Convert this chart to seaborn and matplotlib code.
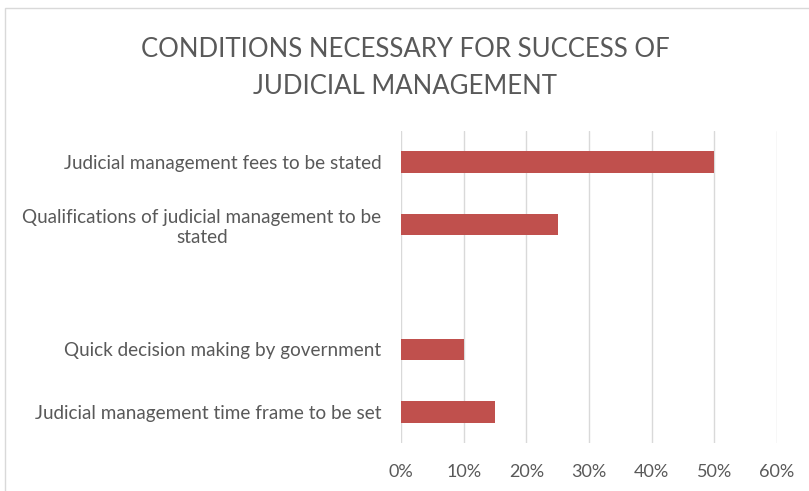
import matplotlib
matplotlib.use("Agg")
import matplotlib.pyplot as plt
import matplotlib.patches as mpatches
from matplotlib.ticker import PercentFormatter
import seaborn as sns
import pandas as pd

# Chart data (top to bottom); one empty slot in the original chart
conditions = [
    "Judicial management fees to be stated",
    "Qualifications of judicial management to be\nstated",
    " ",
    "Quick decision making by government",
    "Judicial management time frame to be set",
]
shares = [50, 25, 0, 10, 15]
x_ticks = [0, 10, 20, 30, 40, 50, 60]

df = pd.DataFrame({"condition": conditions, "share": shares})

sns.set_theme(style="white")
plt.rcParams["font.family"] = ["Lato", "DejaVu Sans"]
text_grey = "#595959"

fig = plt.figure(figsize=(8.09, 4.91), dpi=100)
ax = fig.add_axes([401 / 809, 1 - 443 / 491, 376 / 809, 312 / 491])

sns.barplot(data=df, x="share", y="condition", order=conditions,
            color="#C0504D", saturation=1, width=0.345, linewidth=0, ax=ax)

ax.set_xlim(0, 60)
ax.set_xticks(x_ticks)
ax.xaxis.set_major_formatter(PercentFormatter(decimals=0))
ax.grid(axis="x", color="#D9D9D9", linewidth=1)
ax.set_axisbelow(True)
for s in ax.spines.values():
    s.set_visible(False)
ax.set_xlabel("")
ax.set_ylabel("")
ax.tick_params(axis="x", length=0, pad=15, labelsize=13, labelcolor=text_grey)
ax.tick_params(axis="y", length=0, pad=14, labelsize=13.6, labelcolor=text_grey)
for lbl in ax.get_yticklabels():
    lbl.set_multialignment("center")

fig.suptitle("CONDITIONS NECESSARY FOR SUCCESS OF\nJUDICIAL MANAGEMENT",
             x=405 / 809, y=1 - 37 / 491, va="top", fontsize=18.5,
             color=text_grey, linespacing=1.6)

# light chart-area border, partly cut off at the right and bottom
fig.patches.append(mpatches.Rectangle((5 / 809, -0.05), 1.1, 1 - 8 / 491 + 0.05,
                                      transform=fig.transFigure, fill=False,
                                      edgecolor="#D9D9D9", linewidth=1))

fig.savefig("out.png", dpi=100)
